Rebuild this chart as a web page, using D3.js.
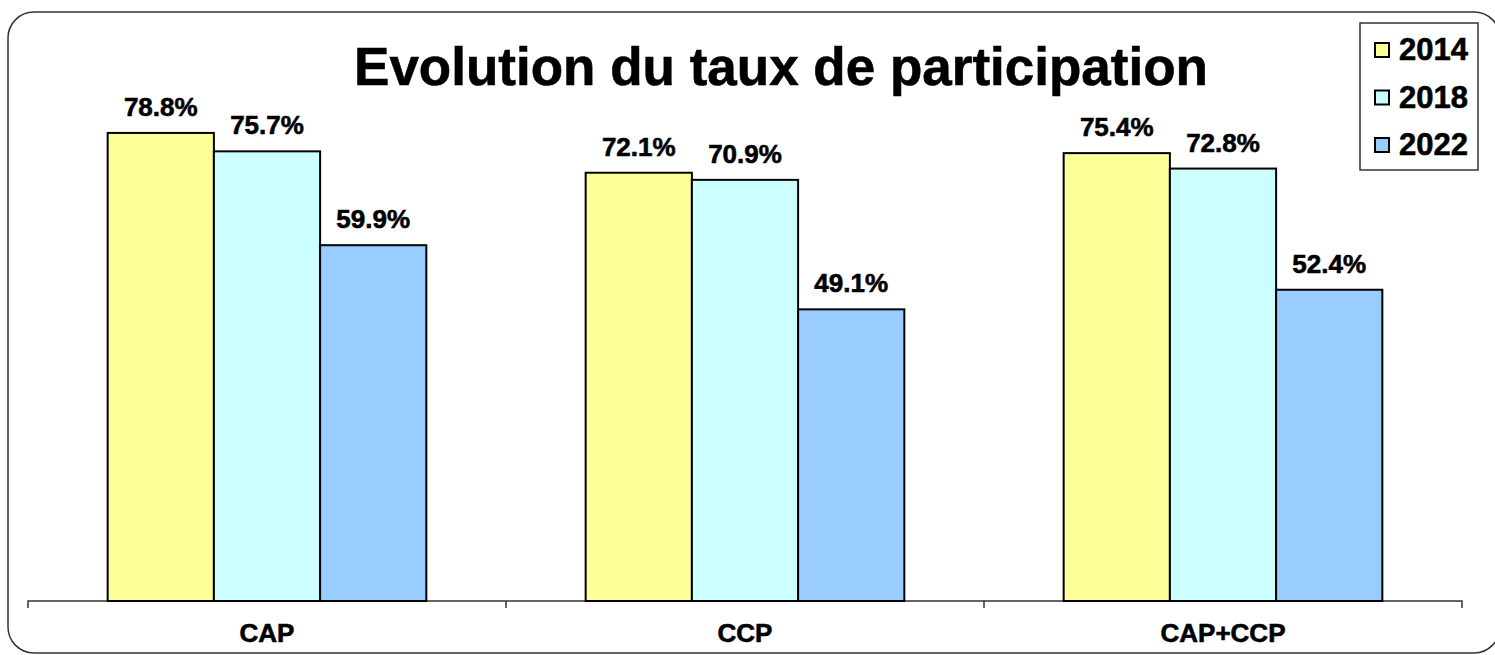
<!DOCTYPE html>
<html>
<head>
<meta charset="utf-8">
<script src="https://cdn.jsdelivr.net/npm/d3@7"></script>
<style>
  body{margin:0;background:#fff;}
  text{font-family:"Liberation Sans",Arial,sans-serif;font-weight:bold;fill:#000;stroke:#000;stroke-width:0.6px;}
</style>
</head>
<body>
<div class="canvas"></div>
<script>
// data
const categories=['CAP','CCP','CAP+CCP'];
const years=['2014','2018','2022'];
const values2014=[78.8,72.1,75.4];
const values2018=[75.7,70.9,72.8];
const values2022=[59.9,49.1,52.4];
const colors=['#ffff99','#ccffff','#99ccff'];

const width=1495,height=655;
const svg=d3.select('.canvas')
  .append('svg')
    .attr('width',width)
    .attr('height',height);

//outer rounded frame
svg.append('rect')
  .attr('x',8).attr('y',12)
  .attr('width',1492).attr('height',641)
  .attr('rx',26).attr('ry',26)
  .attr('fill','#fff')
  .attr('stroke','#333')
  .attr('stroke-width',1.5);

const plot={left:28,right:1462,top:7,bottom:601};

const x0=d3.scaleBand()
  .domain(categories)
  .range([plot.left,plot.right])
  .padding(0);

//gap width 150% -> bars take 3/4.5 of each category
const groupW=x0.bandwidth()*3/4.5;
const x1=d3.scaleBand()
  .domain(years)
  .range([(x0.bandwidth()-groupW)/2,(x0.bandwidth()+groupW)/2])
  .padding(0);

const y=d3.scaleLinear()
  .domain([0,100])
  .range([plot.bottom,plot.top]);

//rows for the grouped bars
const series=[values2014,values2018,values2022];
const rows=[];
categories.forEach((c,i)=>{
  years.forEach((yr,j)=>{
    rows.push({cat:c,year:yr,value:series[j][i],color:colors[j]});
  });
});

//x axis
const xAxisGroup=svg.append('g')
  .attr('transform',`translate(0,${plot.bottom})`);
const xAxis=d3.axisBottom(x0).tickSize(0).tickPadding(23);
xAxisGroup.call(xAxis);
xAxisGroup.select('.domain').remove();
xAxisGroup.append('path')
  .attr('d',`M${plot.left},7V0H${plot.right}V7`)
  .attr('fill','none')
  .attr('stroke','#333')
  .attr('stroke-width',1.5);
//tick marks between categories
xAxisGroup.selectAll('.sep')
  .data(categories.slice(1))
  .enter().append('line')
  .attr('x1',d=>x0(d)).attr('x2',d=>x0(d))
  .attr('y1',0).attr('y2',7)
  .attr('stroke','#333')
  .attr('stroke-width',1.5);
xAxisGroup.selectAll('.tick text')
  .attr('font-size',26)
  .attr('font-family','"Liberation Sans",Arial,sans-serif')
  .attr('font-weight','bold')
  .attr('fill','#000')
  .attr('dy','0.71em');

//bars
const bars=svg.append('g');
bars.selectAll('rect')
  .data(rows)
  .enter().append('rect')
  .attr('x',d=>x0(d.cat)+x1(d.year))
  .attr('y',d=>y(d.value))
  .attr('width',x1.bandwidth())
  .attr('height',d=>y(0)-y(d.value))
  .attr('fill',d=>d.color)
  .attr('stroke','#000')
  .attr('stroke-width',2);

//value labels
bars.selectAll('text')
  .data(rows)
  .enter().append('text')
  .attr('x',d=>x0(d.cat)+x1(d.year)+x1.bandwidth()/2)
  .attr('y',d=>y(d.value)-17)
  .attr('text-anchor','middle')
  .attr('font-size',26)
  .text(d=>d.value.toFixed(1)+'%');

//title
svg.append('text')
  .attr('x',781).attr('y',85)
  .attr('text-anchor','middle')
  .attr('font-size',53)
  .text('Evolution du taux de participation');

//legend
const legend=svg.append('g');
legend.append('rect')
  .attr('x',1360).attr('y',23)
  .attr('width',118).attr('height',147)
  .attr('fill','#fff')
  .attr('stroke','#333')
  .attr('stroke-width',1.5);
const items=legend.selectAll('.item')
  .data(years)
  .enter().append('g')
  .attr('transform',(d,i)=>`translate(1375,${50+i*47.5})`);
items.append('rect')
  .attr('x',0).attr('y',-7)
  .attr('width',14).attr('height',14)
  .attr('fill',(d,i)=>colors[i])
  .attr('stroke','#000')
  .attr('stroke-width',2);
items.append('text')
  .attr('x',24).attr('y',10)
  .attr('font-size',31)
  .text(d=>d);
</script>
</body>
</html>
